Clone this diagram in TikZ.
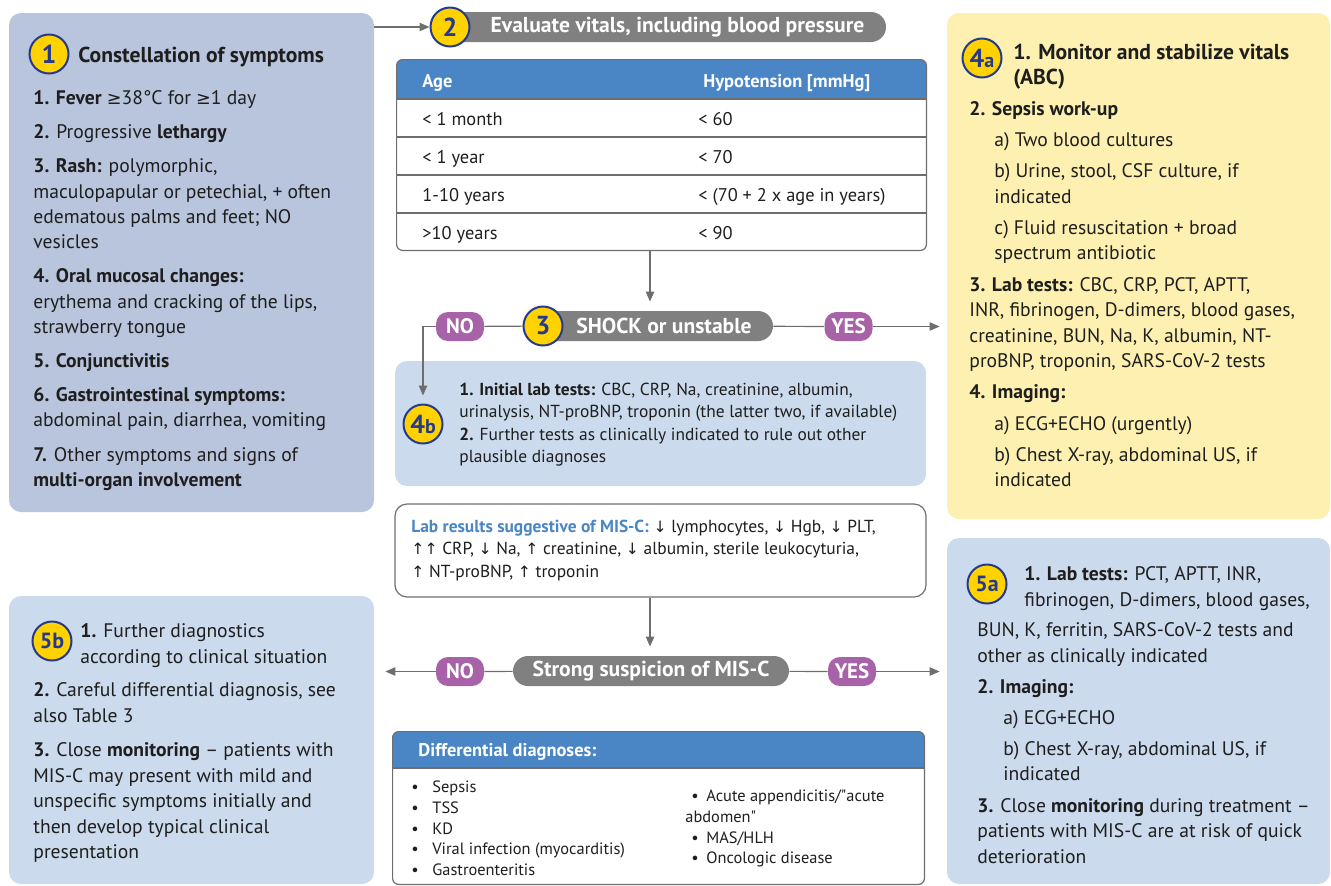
\documentclass[tikz,border=0pt]{standalone}
\usepackage{fontspec}
\setmainfont{PT Sans}
\newfontfamily\symfont{DejaVu Sans}[Scale=0.9]
\newfontfamily\plainfont{PT Sans}[Ligatures=TeXOff]
\usetikzlibrary{arrows.meta,positioning,fit,calc}

\definecolor{lavender}{RGB}{185,196,221}
\definecolor{paleblue}{RGB}{203,218,236}
\definecolor{paleyellow}{RGB}{253,240,176}
\definecolor{pillgray}{RGB}{128,128,128}
\definecolor{plum}{RGB}{168,98,168}
\definecolor{hdblue}{RGB}{74,134,197}
\definecolor{badgeyellow}{RGB}{255,210,0}
\definecolor{badgeblue}{RGB}{38,58,140}
\definecolor{ink}{RGB}{30,30,30}
\definecolor{wire}{RGB}{110,110,110}

\newcommand{\bodysize}{\fontsize{9.8}{12.65}\selectfont}
\newcommand{\smallsize}{\fontsize{8.7}{11.25}\selectfont}
\newcommand{\tabsize}{\fontsize{9.2}{10}\selectfont}
\newcommand{\listsize}{\fontsize{8.2}{10.4}\selectfont}
\newcommand{\atleast}{{\symfont ≥}}
\newcommand{\arrup}{{\symfont ↑}}
\newcommand{\arrdn}{{\symfont ↓}}
\newcommand{\dq}{{\plainfont "}}
\newcommand{\blt}[1]{\makebox[#1][l]{•}}
\newcommand{\badgetxt}[2]{{\fontsize{13}{13}\selectfont #1}{\fontsize{10}{10}\selectfont #2}}

\begin{document}
\begin{tikzpicture}[x=0.5pt, y=-0.5pt, font=\bodysize, text=ink,
    box/.style={inner sep=0pt, rounded corners=6pt},
    badge/.style={circle, fill=badgeyellow, draw=badgeblue, line width=1pt,
      minimum size=19.5pt, inner sep=0pt, text=badgeblue,
      font=\fontsize{13}{13}\selectfont\bfseries},
    pill/.style={fill=pillgray, rounded corners=7.5pt, minimum height=15pt,
      inner sep=0pt, text=white, font=\fontsize{10.8}{10.8}\selectfont\bfseries},
    choice/.style={fill=plum, rounded corners=6pt, minimum width=24pt,
      minimum height=14.5pt, inner sep=0pt, text=white,
      font=\fontsize{10.5}{10.5}\selectfont\bfseries},
    txt/.style={anchor=north west, align=left, inner sep=0pt, yshift=#1,
      execute at begin node=\strut},
    txt/.default=8.86pt,
    wire/.style={draw=wire, line width=0.6pt},
    arr/.style={wire, -{Triangle[length=5pt,width=4.2pt]}}]

  \useasboundingbox (0,0) rectangle (1331,885);

  % boxes
  \node[box, fill=lavender, fit={(9,13) (374,512)}] (symp) {};
  \node[box, fill=paleyellow, fit={(947,13) (1330,519)}] (stab) {};
  \node[box, fill=paleblue, fit={(395,361) (926,486)}] (init) {};
  \node[box, fill=white, wire, fit={(395,504) (926,597)}] (labres) {};
  \node[box, fill=paleblue, fit={(9,596) (374,884)}] (furth) {};
  \node[box, fill=paleblue, fit={(947,538) (1330,884)}] (treat) {};
  \node[box, rounded corners=3pt, fit={(397,60) (926,250)}] (tab) {};
  \node[box, rounded corners=3pt, fit={(393,732) (924,884)}] (diff) {};

  % table heads
  \begin{scope}
    \clip[rounded corners=3pt] (tab.south west) rectangle (tab.north east);
    \fill[hdblue] (tab.north west) rectangle (tab.east |- 0,99);
  \end{scope}
  \begin{scope}
    \clip[rounded corners=3pt] (diff.south west) rectangle (diff.north east);
    \fill[hdblue] (diff.north west) rectangle (diff.east |- 0,768);
  \end{scope}
  \draw[wire, rounded corners=3pt] (tab.south west) rectangle (tab.north east);
  \draw[wire, rounded corners=3pt] (diff.south west) rectangle (diff.north east);
  \foreach \y in {99,137,175,213}
    \draw[wire] (tab.west |- 0,\y) -- (tab.east |- 0,\y);
  \draw[wire] (diff.west |- 0,768) -- (diff.east |- 0,768);

  % pills
  \node[pill, minimum width=223pt] (eval) at (663,27) {\hspace*{14.5pt}Evaluate vitals, including blood pressure};
  \node[pill, minimum width=121.5pt] (shock) at (651.5,326) {\hspace*{12.5pt}SHOCK or unstable};
  \node[pill, minimum width=138pt] (susp) at (651,671) {Strong suspicion of MIS-C};
  \node[choice] (no1) at (460,326.5) {NO};
  \node[choice] (yes1) at (848.5,326.5) {YES};
  \node[choice] (no2) at (460,671.5) {NO};
  \node[choice] (yes2) at (852,671.5) {YES};

  % badges
  \node[badge] (b1) at (49,54) {1};
  \node[badge] (b2) at (450,27) {2};
  \node[badge] (b3) at (543,326) {3};
  \node[badge] (b4a) at (982,58) {\badgetxt{4}{a}};
  \node[badge] (b4b) at (423,424) {\badgetxt{4}{b}};
  \node[badge, font=\fontsize{11}{11}\selectfont\bfseries] (b5a) at (987,584) {5a};
  \node[badge, font=\fontsize{11}{11}\selectfont\bfseries] (b5b) at (52,641) {5b};

  % connectors
  \coordinate (spine) at (650,0);
  \draw[arr] (b2 -| symp.east) -- (b2);
  \draw[arr, shorten >=4.5pt] (tab.south -| spine) -- (shock.north -| spine);
  \draw[wire] (no1) -- (b3);
  \draw[wire] (shock) -- (yes1);
  \draw[arr, shorten >=3.5pt] (yes1) -- (yes1 -| stab.west);
  \draw[arr] (no1.west) -| ([yshift=4pt]b4b.north);
  \draw[arr, shorten >=4.5pt] (labres.south -| spine) -- (susp.north -| spine);
  \draw[wire] (no2) -- (susp);
  \draw[wire] (susp) -- (yes2);
  \draw[arr, shorten >=5.5pt] (no2) -- (no2 -| furth.east);
  \draw[arr, shorten >=3.5pt] (yes2) -- (yes2 -| treat.west);

  % step 1
  \node[txt=8.4pt, font=\fontsize{10.8}{12}\selectfont\bfseries] (symphead) at (78,62) {Constellation of symptoms};
  \node[txt] (symplist) at (33,108) {\textbf{1. Fever} \atleast38°C for \atleast1 day\\[4.4pt]
    \textbf{2.} Progressive \textbf{lethargy}\\[4.4pt]
    \textbf{3. Rash:} polymorphic,\\
    maculopapular or petechial, + often\\
    edematous palms and feet; NO\\
    vesicles\\[4.4pt]
    \textbf{4. Oral mucosal changes:}\\
    erythema and cracking of the lips,\\
    strawberry tongue\\[4.4pt]
    \textbf{5. Conjunctivitis}\\[4.4pt]
    \textbf{6. Gastrointestinal symptoms:}\\
    abdominal pain, diarrhea, vomiting\\[4.4pt]
    \textbf{7.} Other symptoms and signs of\\
    \textbf{multi-organ involvement}};

  % step 2 table
  \node[txt=7pt, font=\tabsize\bfseries, text=white] (agehead) at (422,87) {Age};
  \node[txt=7pt, font=\tabsize\bfseries, text=white] (hyphead) at (703,87) {Hypotension [mmHg]};
  \foreach \y/\a/\h [count=\i] in {125/{< 1 month}/{< 60}, 163/{< 1 year}/{< 70},
      201/{1-10 years}/{< (70 + 2 x age in years)}, 239/{>10 years}/{< 90}} {
    \node[txt=7pt, font=\tabsize] (age\i) at (422,\y) {\a};
    \node[txt=7pt, font=\tabsize] (hyp\i) at (698,\y) {\h};
  }

  % step 4b and lab results
  \node[txt=7.88pt, font=\smallsize] (initlist) at (459,398) {\textbf{1. Initial lab tests:} CBC, CRP, Na, creatinine, albumin,\\
    urinalysis, NT-proBNP, troponin (the latter two, if available)\\
    \textbf{2.} Further tests as clinically indicated to rule out other\\
    plausible diagnoses};
  \node[txt=7.88pt, font=\smallsize] (labtext) at (411,535) {{\color{hdblue}\textbf{Lab results suggestive of MIS-C:}} \arrdn\ lymphocytes, \arrdn\ Hgb, \arrdn\ PLT,\\
    \arrup\arrup\ CRP, \arrdn\ Na, \arrup\ creatinine, \arrdn\ albumin, sterile leukocyturia,\\
    \arrup\ NT-proBNP, \arrup\ troponin};

  % differential diagnoses
  \node[txt=7pt, font=\tabsize\bfseries, text=white] (diffhead) at (418,756) {Differential diagnoses:};
  \node[txt=7.28pt, font=\listsize] (diffleft) at (411,795) {\blt{10.5pt}Sepsis\\
    \blt{10.5pt}TSS\\
    \blt{10.5pt}KD\\
    \blt{10.5pt}Viral infection (myocarditis)\\
    \blt{10.5pt}Gastroenteritis};
  \node[txt=7.28pt, font=\listsize] (diffright) at (685,804) {\hspace*{3pt}\blt{7.5pt}Acute appendicitis/\dq acute\\
    abdomen\dq\\
    \hspace*{3pt}\blt{7.5pt}MAS/HLH\\
    \hspace*{3pt}\blt{7.5pt}Oncologic disease};

  % step 4a
  \node[txt=8.75pt, font=\fontsize{10.8}{12.5}\selectfont\bfseries] (stabhead) at (1013,61) {1. Monitor and stabilize vitals\\(ABC)};
  \node[txt=8.96pt, font=\fontsize{9.8}{12.8}\selectfont] (stablist) at (969,119) {\textbf{2. Sepsis work-up}\\[2.75pt]
    \hspace*{12.5pt}a) Two blood cultures\\[2.75pt]
    \hspace*{12.5pt}b) Urine, stool, CSF culture, if\\
    \hspace*{12.5pt}indicated\\[2.75pt]
    \hspace*{12.5pt}c) Fluid resuscitation + broad\\
    \hspace*{12.5pt}spectrum antibiotic\\[2.75pt]
    \textbf{3. Lab tests:} CBC, CRP, PCT, APTT,\\
    INR, fibrinogen, D-dimers, blood gases,\\
    creatinine, BUN, Na, K, albumin, NT-\\
    proBNP, troponin, SARS-CoV-2 tests\\[2.75pt]
    \textbf{4. Imaging:}\\[2.75pt]
    \hspace*{12.5pt}a) ECG+ECHO (urgently)\\[2.75pt]
    \hspace*{12.5pt}b) Chest X-ray, abdominal US, if\\
    \hspace*{12.5pt}indicated};

  % step 5a
  \node[txt=8.96pt, font=\fontsize{9.8}{12.8}\selectfont] (treathead) at (1024,584) {\textbf{1. Lab tests:} PCT, APTT, INR,\\fibrinogen, D-dimers, blood gases,};
  \node[txt=8.96pt, font=\fontsize{9.8}{12.8}\selectfont] (treatlist) at (977,640) {BUN, K, ferritin, SARS-CoV-2 tests and\\
    other as clinically indicated\\[2.75pt]
    \textbf{2. Imaging:}\\[2.75pt]
    \hspace*{13pt}a) ECG+ECHO\\[2.75pt]
    \hspace*{13pt}b) Chest X-ray, abdominal US, if\\
    \hspace*{13pt}indicated\\[2.75pt]
    \textbf{3.} Close \textbf{monitoring} during treatment –\\
    patients with MIS-C are at risk of quick\\
    deterioration};

  % step 5b
  \node[txt=8.96pt, font=\fontsize{9.8}{12.8}\selectfont] (furthhead) at (80,641) {\textbf{1.} Further diagnostics\\according to clinical situation};
  \node[txt=8.96pt, font=\fontsize{9.8}{12.8}\selectfont] (furthlist) at (33,700) {\textbf{2.} Careful differential diagnosis, see\\
    also Table 3\\[4.4pt]
    \textbf{3.} Close \textbf{monitoring} – patients with\\
    MIS-C may present with mild and\\
    unspecific symptoms initially and\\
    then develop typical clinical\\
    presentation};
\end{tikzpicture}
\end{document}
